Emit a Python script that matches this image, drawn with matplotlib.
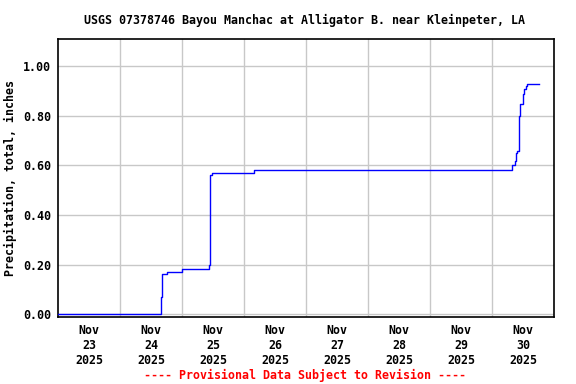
import numpy as np
import pandas as pd
import matplotlib
matplotlib.use("Agg")
import matplotlib.pyplot as plt

############ **** Data **** ############
start = pd.Timestamp("2025-11-23 00:00")
hours = [0.0, 39.7, 40.1, 42.2, 48.0, 58.3, 58.7, 59.0, 59.7, 76.0,
         175.9, 176.8, 177.2, 177.8, 178.3, 178.6, 179.0, 179.9, 180.4,
         181.0, 181.4, 186.3]
precip = [0.00, 0.07, 0.16, 0.17, 0.18, 0.20, 0.33, 0.56, 0.57, 0.58,
          0.60, 0.62, 0.65, 0.66, 0.68, 0.80, 0.85, 0.89, 0.91,
          0.92, 0.93, 0.93]
day_labels = ["Nov\n23\n2025", "Nov\n24\n2025", "Nov\n25\n2025", "Nov\n26\n2025",
              "Nov\n27\n2025", "Nov\n28\n2025", "Nov\n29\n2025", "Nov\n30\n2025"]
y_ticks = [0.0, 0.2, 0.4, 0.6, 0.8, 1.0]

times = [start + pd.Timedelta(hours=h) for h in hours]

plt.rcParams['font.family'] = ['DejaVu Sans Mono']
plt.rcParams['font.weight'] = 'bold'
fs = 8.4

fig = plt.figure(figsize=(5.76, 3.84), dpi=100)
ax = fig.add_axes([58/576, 1 - 317/384, (554-58)/576, (317-39)/384])

ax.step(times, precip, where='post', color='blue', lw=1.0, zorder=3)

# gridlines at midnight, labels at noon
midnights = [start + pd.Timedelta(days=d) for d in range(1, 8)]
noons = [start + pd.Timedelta(days=d, hours=12) for d in range(8)]
for m in midnights:
    ax.axvline(m, color='#c8c8c8', lw=1.0, zorder=1)
for yv in y_ticks:
    ax.axhline(yv, color='#c8c8c8', lw=1.0, zorder=1)

ax.set_xlim(start, start + pd.Timedelta(days=8))
ax.set_ylim(-0.012, 1.111)
ax.set_xticks(noons)
ax.set_xticklabels(day_labels, fontsize=fs, fontweight='bold', linespacing=1.2)
ax.set_yticks(y_ticks)
ax.set_yticklabels(['%.2f' % v for v in y_ticks], fontsize=fs, fontweight='bold')
ax.tick_params(axis='x', length=0, pad=5)
ax.tick_params(axis='y', length=0, pad=5)
for s in ax.spines.values():
    s.set_linewidth(1.2)

ax.set_ylabel('Precipitation, total, inches', fontsize=fs, fontweight='bold', labelpad=4)
fig.text(305/576, 1 - 20/384, 'USGS 07378746 Bayou Manchac at Alligator B. near Kleinpeter, LA',
         ha='center', va='center', fontsize=fs, fontweight='bold')
fig.text(305/576, 1 - 375/384, '---- Provisional Data Subject to Revision ----',
         ha='center', va='center', fontsize=fs, fontweight='bold', color='red')

fig.savefig('out.png', dpi=100)
